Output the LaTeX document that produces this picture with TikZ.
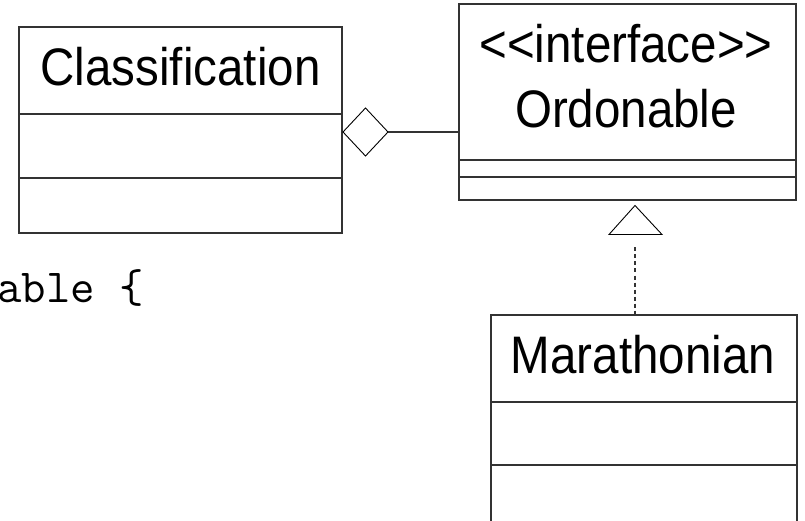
\documentclass[tikz,border=0pt]{standalone}
\usepackage{fontspec}
\newfontfamily\umlfont[FakeStretch=0.9,Ligatures=TeXOff]{Liberation Sans}
\usetikzlibrary{shapes.geometric}
\begin{document}
\begin{tikzpicture}[x=1bp,y=-1bp,
  classbox/.style={draw=black!80, line width=1.1bp, rectangle, inner sep=0pt,
    outer sep=0pt, anchor=north west},
  sep/.style={draw=black!80, line width=1.1bp},
  title/.style={font=\umlfont\fontsize{53}{65}\selectfont, inner sep=0pt, anchor=base},
  code/.style={font=\ttfamily\fontsize{47.6}{56}\selectfont, inner sep=0pt, anchor=base west},
  assoc/.style={draw=black!80, line width=1.1bp},
  realize/.style={draw=black!80, line width=1.1bp, dash pattern=on 4bp off 3bp},
  hollow/.style={draw=black, line width=0.9bp, fill=white, line join=miter}]
\useasboundingbox[fill=white] (0,0) rectangle (805,521);

% Classification
\node[classbox, minimum width=323bp, minimum height=206bp] (cls) at (19,27) {};
\draw[sep] (cls.west |- 0,114) -- (cls.east |- 0,114);
\draw[sep] (cls.west |- 0,178) -- (cls.east |- 0,178);
\node[title] (clsname) at (180.5,86) {Classification};

% Ordonable interface
\node[classbox, minimum width=337bp, minimum height=196bp] (ord) at (459,4) {};
\draw[sep] (ord.west |- 0,160) -- (ord.east |- 0,160);
\draw[sep] (ord.west |- 0,177) -- (ord.east |- 0,177);
\node[title] (ordstereo) at (626,63) {<<interface>>};
\node[title] (ordname) at (626,128) {Ordonable};

% Marathonian
\node[classbox, minimum width=306bp, minimum height=230bp] (mar) at (491,315) {};
\draw[sep] (mar.west |- 0,402) -- (mar.east |- 0,402);
\draw[sep] (mar.west |- 0,465) -- (mar.east |- 0,465);
\node[title] (marname) at (643,373) {Marathonian};

% Aggregation: diamond on the Classification side
\node[diamond, hollow, minimum width=45bp, minimum height=48bp, inner sep=0pt,
  outer sep=0pt] (dia) at (365.5,132) {};
\draw[assoc] (dia.east) -- (dia.east -| ord.west);

% Realization: hollow triangle under the interface
\coordinate (apex) at (635,205.5);
\coordinate (tribase) at (635,234.5);
\draw[hollow] (apex) -- ++(27,29) -- ++(-53,0) -- cycle;
\draw[realize] (tribase) ++(0,13) -- (tribase |- mar.north);

% Code fragment
\node[code] (codeline) at (-3,303) {able \{};
\end{tikzpicture}
\end{document}
